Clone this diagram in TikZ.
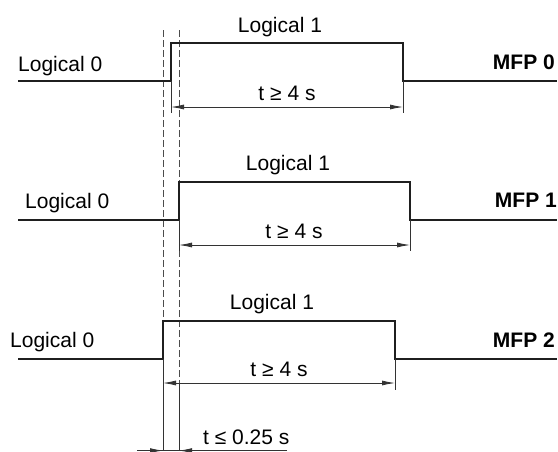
\documentclass[tikz,border=0pt]{standalone}
\usepackage{fontspec}
\setmainfont{Liberation Sans}
\usetikzlibrary{arrows.meta}
\begin{document}
\begin{tikzpicture}[x=1pt,y=-1pt,
  sig/.style={line width=2.2pt,color=black!88,line join=miter},
  thin/.style={line width=0.8pt,color=black!80},
  dsh/.style={line width=0.8pt,color=black!70,dash pattern=on 7pt off 3pt},
  dimarrow/.style={line width=0.8pt,color=black!80,{Latex[length=13pt,width=5pt]}-{Latex[length=13pt,width=5pt]}},
  lbl/.style={inner sep=0pt,font=\fontsize{21}{24}\selectfont},
  blbl/.style={inner sep=0pt,font=\fontsize{21}{24}\selectfont\bfseries}]
\useasboundingbox (0,0) rectangle (558,451);
% dashed reference lines
\coordinate (d1t) at (163,30);
\coordinate (d1b) at (163,321);
\coordinate (d2t) at (179,30);
\coordinate (d2b) at (179,383);
\draw[dsh] (d1t) -- (d1b);
\draw[dsh] (d2t) -- (d2b);
% ---------- MFP 0 ----------
\coordinate (a0) at (18,81);
\coordinate (a1) at (171,81);
\coordinate (a2) at (171,43);
\coordinate (a3) at (403,43);
\coordinate (a4) at (403,81);
\coordinate (a5) at (557,81);
\draw[sig] (a0) -- (a1) -- (a2) -- (a3) -- (a4) -- (a5);
\coordinate (ae1) at (171,113);
\coordinate (ae2) at (403,113);
\draw[thin] (a1) -- (ae1);
\draw[thin] (a4) -- (ae2);
\coordinate (am1) at (171,107);
\coordinate (am2) at (403,107);
\draw[dimarrow] (am1) -- (am2);
\node[lbl,anchor=base west] (l00) at (18,71) {Logical 0};
\node[lbl,anchor=base] (l01) at (280,32) {Logical 1};
\node[lbl,anchor=base] (t0) at (287,100) {t ≥ 4 s};
\node[blbl,anchor=base east] (m0) at (555,69) {MFP 0};
% ---------- MFP 1 ----------
\coordinate (b0) at (18,220);
\coordinate (b1) at (179,220);
\coordinate (b2) at (179,182);
\coordinate (b3) at (410,182);
\coordinate (b4) at (410,220);
\coordinate (b5) at (557,220);
\draw[sig] (b0) -- (b1) -- (b2) -- (b3) -- (b4) -- (b5);
\coordinate (be1) at (179,251);
\coordinate (be2) at (410,251);
\draw[thin] (b1) -- (be1);
\draw[thin] (b4) -- (be2);
\coordinate (bm1) at (179,245);
\coordinate (bm2) at (410,245);
\draw[dimarrow] (bm1) -- (bm2);
\node[lbl,anchor=base west] (l10) at (25,208) {Logical 0};
\node[lbl,anchor=base] (l11) at (288,170) {Logical 1};
\node[lbl,anchor=base] (t1) at (294,238) {t ≥ 4 s};
\node[blbl,anchor=base east] (m1) at (557,207) {MFP 1};
% ---------- MFP 2 ----------
\coordinate (c0) at (18,359);
\coordinate (c1) at (163,359);
\coordinate (c2) at (163,321);
\coordinate (c3) at (395,321);
\coordinate (c4) at (395,359);
\coordinate (c5) at (557,359);
\draw[sig] (c0) -- (c1) -- (c2) -- (c3) -- (c4) -- (c5);
\coordinate (ce1) at (163,451);
\coordinate (ce2) at (395,390);
\draw[thin] (c1) -- (ce1);
\draw[thin] (c4) -- (ce2);
\coordinate (ce3) at (179,451);
\draw[thin] (d2b) -- (ce3);
\coordinate (cm1) at (163,383);
\coordinate (cm2) at (395,383);
\draw[dimarrow] (cm1) -- (cm2);
\node[lbl,anchor=base west] (l20) at (10,347) {Logical 0};
\node[lbl,anchor=base] (l21) at (272,309) {Logical 1};
\node[lbl,anchor=base] (t2) at (279,376) {t ≥ 4 s};
\node[blbl,anchor=base east] (m2) at (555,347) {MFP 2};
% ---------- bottom dimension ----------
\coordinate (z0) at (137,450.6);
\coordinate (z1) at (287,450.6);
\draw[thin] (z0) -- (z1);
\coordinate (za) at (163,450.6);
\coordinate (zb) at (179,450.6);
\draw[thin,-{Latex[length=13pt,width=5pt]}] (z0) -- (za);
\draw[thin,-{Latex[length=13pt,width=5pt]}] (z1) -- (zb);
\node[lbl,anchor=base west] (tz) at (203,444) {t ≤ 0.25 s};
\end{tikzpicture}
\end{document}
